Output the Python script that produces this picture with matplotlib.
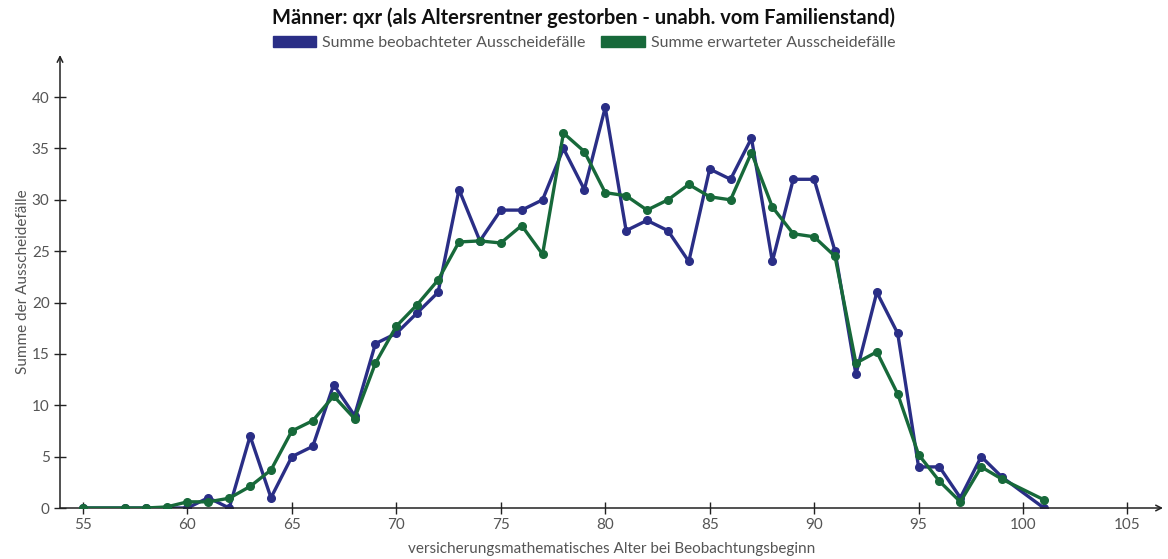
import matplotlib
matplotlib.use("Agg")
import matplotlib.pyplot as plt
from matplotlib.patches import Patch

# Alter bei Beobachtungsbeginn (56 und 100 fehlen in den Daten)
alter = [55, 57, 58, 59, 60, 61, 62, 63, 64, 65, 66, 67, 68, 69, 70, 71, 72, 73, 74,
         75, 76, 77, 78, 79, 80, 81, 82, 83, 84, 85, 86, 87, 88, 89, 90, 91, 92, 93,
         94, 95, 96, 97, 98, 99, 101]

beobachtet = [0, 0, 0, 0, 0, 1, 0, 7, 1, 5, 6, 12, 9, 16, 17, 19, 21, 31, 26,
              29, 29, 30, 35, 31, 39, 27, 28, 27, 24, 33, 32, 36, 24, 32, 32, 25, 13, 21,
              17, 4, 4, 1, 5, 3, 0]

erwartet = [0, 0, 0, 0.1, 0.6, 0.6, 0.95, 2.1, 3.7, 7.5, 8.5, 10.9, 8.7, 14.1, 17.7, 19.8, 22.2, 25.9, 26.0,
            25.8, 27.5, 24.7, 36.5, 34.7, 30.7, 30.4, 29.0, 30.0, 31.5, 30.3, 30.0, 34.6, 29.3, 26.7, 26.4, 24.5, 14.1, 15.2,
            11.1, 5.2, 2.6, 0.6, 4.0, 2.8, 0.8]

blau = "#2a2e86"
gruen = "#17693a"
grau = "#555555"

plt.rcParams['font.family'] = ['Lato', 'DejaVu Sans']

fig = plt.figure(figsize=(11.68, 5.59), dpi=100)
ax = fig.add_axes([60/1168, 1 - 508/559, (1163-60)/1168, (508-55)/559])

ax.plot(alter, beobachtet, color=blau, lw=2.4, marker='o', ms=5.5, zorder=3)
ax.plot(alter, erwartet, color=gruen, lw=2.4, marker='o', ms=5.5, zorder=4)

ax.set_xlim(53.9, 106.7)
ax.set_ylim(0, 44.1)
ax.set_xticks(range(55, 106, 5))
ax.set_yticks(range(0, 41, 5))

for s in ax.spines.values():
    s.set_visible(False)
ax.annotate('', xy=(1, 0), xytext=(0, 0), xycoords='axes fraction',
            arrowprops=dict(arrowstyle='->', lw=1.1, color='#222222', shrinkA=0, shrinkB=0))
ax.annotate('', xy=(0, 1), xytext=(0, 0), xycoords='axes fraction',
            arrowprops=dict(arrowstyle='->', lw=1.1, color='#222222', shrinkA=0, shrinkB=0))

ax.tick_params(direction='inout', length=8, width=1, color='#222222',
               labelcolor=grau, labelsize=11)
ax.set_xlabel('versicherungsmathematisches Alter bei Beobachtungsbeginn', color=grau,
              fontsize=11, labelpad=7)
ax.set_ylabel('Summe der Ausscheidefälle', color=grau, fontsize=11, labelpad=1)

fig.text(0.5, 1 - 18/559, 'Männer: qxr (als Altersrentner gestorben - unabh. vom Familienstand)',
         ha='center', va='center', fontsize=14.5, fontweight='bold', color='#111111')

handles = [Patch(color=blau, label='Summe beobachteter Ausscheidefälle'),
           Patch(color=gruen, label='Summe erwarteter Ausscheidefälle')]
fig.legend(handles=handles, loc='center', bbox_to_anchor=(0.5, 1 - 43/559), ncol=2,
           frameon=False, fontsize=11.5, handlelength=2.7, handleheight=0.7,
           handletextpad=0.4, columnspacing=1.0, labelcolor=grau)

fig.savefig('out.png', dpi=100)
